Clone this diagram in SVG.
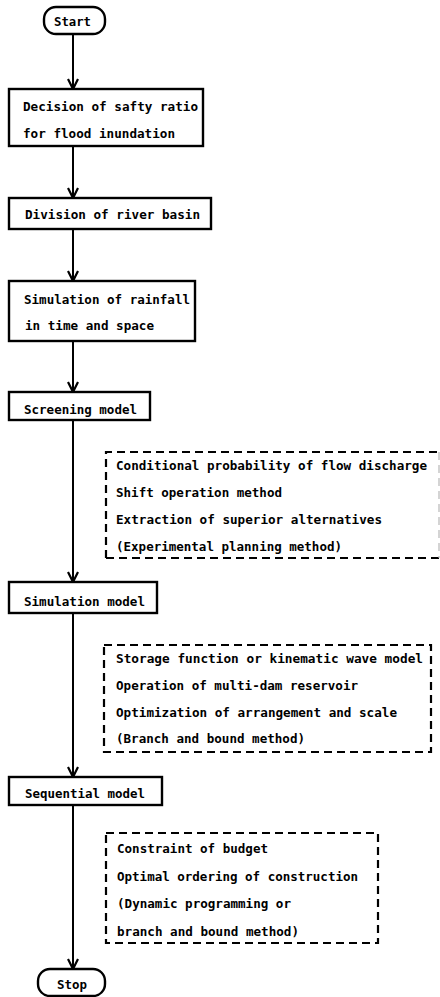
<svg xmlns="http://www.w3.org/2000/svg" width="440" height="997" viewBox="0 0 440 997">
  <defs>
    <style>
      .bg { fill: #ffffff; }
      .box { fill: #ffffff; stroke: #000; stroke-width: 2.4; }
      .term { fill: #ffffff; stroke: #000; stroke-width: 2.4; }
      .note { fill: none; stroke: #000; stroke-width: 2.2; stroke-dasharray: 8 5; }
      .note-faint { fill: none; stroke: #b8b8b8; stroke-width: 1.2; stroke-dasharray: 8 5; }
      .flow { fill: none; stroke: #000; stroke-width: 2; }
      .t { font-family: "DejaVu Sans Mono", "Liberation Mono", monospace; font-weight: bold; font-size: 13px; fill: #000; }
      .c { text-anchor: middle; }
    </style>
    <!-- open V arrowhead; +x is the direction of travel -->
    <marker id="chevron" viewBox="-12 -7 14 14" refX="0" refY="0" markerWidth="14" markerHeight="14" markerUnits="userSpaceOnUse" orient="auto">
      <path d="M-10,-5 L0,0 L-10,5" fill="none" stroke="#000" stroke-width="2.2"/>
    </marker>
  </defs>

  <rect class="bg" x="0" y="0" width="440" height="997"/>

  <!-- main flow line -->
  <g id="connectors">
    <line class="flow" x1="73" y1="34" x2="73" y2="89" marker-end="url(#chevron)"/>
    <line class="flow" x1="73" y1="146" x2="73" y2="198" marker-end="url(#chevron)"/>
    <line class="flow" x1="73" y1="229" x2="73" y2="281" marker-end="url(#chevron)"/>
    <line class="flow" x1="73" y1="341" x2="73" y2="392" marker-end="url(#chevron)"/>
    <line class="flow" x1="73" y1="420" x2="73" y2="582" marker-end="url(#chevron)"/>
    <line class="flow" x1="73" y1="613" x2="73" y2="777" marker-end="url(#chevron)"/>
    <line class="flow" x1="73" y1="805" x2="73" y2="969" marker-end="url(#chevron)"/>
  </g>

  <g id="start">
    <rect class="term" x="44" y="7" width="61" height="27" rx="12" ry="12"/>
    <text class="t c" x="72.5" y="26" textLength="37" lengthAdjust="spacingAndGlyphs">Start</text>
  </g>

  <g id="safety-ratio">
    <rect class="box" x="9" y="89" width="194" height="57"/>
    <text class="t" x="23" y="111" textLength="175" lengthAdjust="spacingAndGlyphs">Decision of safty ratio</text>
    <text class="t" x="23" y="138" textLength="152" lengthAdjust="spacingAndGlyphs">for flood inundation</text>
  </g>

  <g id="basin-division">
    <rect class="box" x="9" y="198" width="202" height="31"/>
    <text class="t" x="25" y="219" textLength="175" lengthAdjust="spacingAndGlyphs">Division of river basin</text>
  </g>

  <g id="rainfall-simulation">
    <rect class="box" x="9" y="281" width="186" height="60"/>
    <text class="t" x="24" y="304" textLength="166" lengthAdjust="spacingAndGlyphs">Simulation of rainfall</text>
    <text class="t" x="25" y="330" textLength="129" lengthAdjust="spacingAndGlyphs">in time and space</text>
  </g>

  <g id="screening-model">
    <rect class="box" x="9" y="392" width="141" height="28"/>
    <text class="t" x="24" y="414" textLength="113" lengthAdjust="spacingAndGlyphs">Screening model</text>
  </g>

  <g id="screening-notes">
    <path class="note" d="M106,558 L106,452 L440,452"/>
    <path class="note" d="M106,558 L440,558"/>
    <line class="note-faint" x1="439" y1="452" x2="439" y2="558"/>
    <text class="t" x="116" y="470" textLength="311" lengthAdjust="spacingAndGlyphs">Conditional probability of flow discharge</text>
    <text class="t" x="116" y="497" textLength="166" lengthAdjust="spacingAndGlyphs">Shift operation method</text>
    <text class="t" x="116" y="524" textLength="266" lengthAdjust="spacingAndGlyphs">Extraction of superior alternatives</text>
    <text class="t" x="116" y="551" textLength="226" lengthAdjust="spacingAndGlyphs">(Experimental planning method)</text>
  </g>

  <g id="simulation-model">
    <rect class="box" x="9" y="582" width="148" height="31"/>
    <text class="t" x="24" y="606" textLength="121" lengthAdjust="spacingAndGlyphs">Simulation model</text>
  </g>

  <g id="simulation-notes">
    <rect class="note" x="104" y="645" width="327" height="107"/>
    <text class="t" x="116" y="663" textLength="307" lengthAdjust="spacingAndGlyphs">Storage function or kinematic wave model</text>
    <text class="t" x="116" y="690" textLength="242" lengthAdjust="spacingAndGlyphs">Operation of multi-dam reservoir</text>
    <text class="t" x="116" y="717" textLength="281" lengthAdjust="spacingAndGlyphs">Optimization of arrangement and scale</text>
    <text class="t" x="116" y="743" textLength="189" lengthAdjust="spacingAndGlyphs">(Branch and bound method)</text>
  </g>

  <g id="sequential-model">
    <rect class="box" x="9" y="777" width="153" height="28"/>
    <text class="t" x="25" y="798" textLength="120" lengthAdjust="spacingAndGlyphs">Sequential model</text>
  </g>

  <g id="sequential-notes">
    <rect class="note" x="106" y="833" width="272" height="110"/>
    <text class="t" x="117" y="853" textLength="151" lengthAdjust="spacingAndGlyphs">Constraint of budget</text>
    <text class="t" x="117" y="881" textLength="241" lengthAdjust="spacingAndGlyphs">Optimal ordering of construction</text>
    <text class="t" x="117" y="908" textLength="174" lengthAdjust="spacingAndGlyphs">(Dynamic programming or</text>
    <text class="t" x="117" y="936" textLength="182" lengthAdjust="spacingAndGlyphs">branch and bound method)</text>
  </g>

  <g id="stop">
    <rect class="term" x="38" y="969" width="67" height="27" rx="12" ry="12"/>
    <text class="t c" x="72" y="989" textLength="30" lengthAdjust="spacingAndGlyphs">Stop</text>
  </g>
</svg>
